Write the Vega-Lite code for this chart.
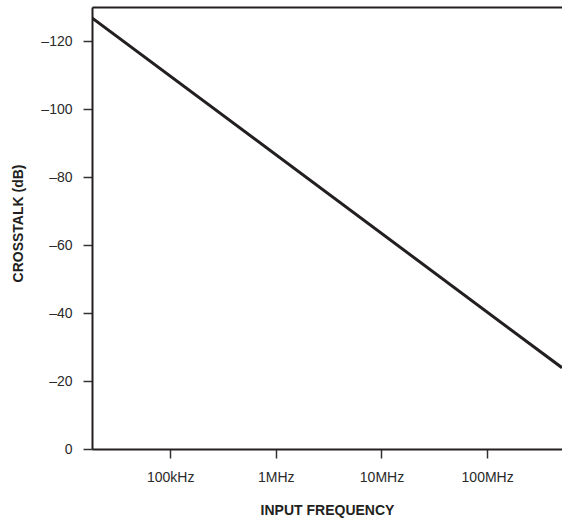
{
  "$schema": "https://vega.github.io/schema/vega-lite/v6.json",
  "autosize": "none",
  "width": 470,
  "height": 442,
  "padding": {"left": 92, "top": 7, "right": 0, "bottom": 72},
  "background": "white",
  "config": {
    "view": {"stroke": null},
    "font": "Liberation Sans",
    "axis": {
      "labelFont": "Liberation Sans",
      "titleFont": "Liberation Sans",
      "labelFontSize": 14,
      "labelColor": "#2a2a2a",
      "titleFontSize": 14,
      "titleFontWeight": "bold",
      "titleColor": "#231f20",
      "domainColor": "#231f20",
      "domainWidth": 2,
      "tickColor": "#333333",
      "tickWidth": 1.5,
      "tickSize": 9,
      "grid": false
    }
  },
  "data": {
    "values": [
      {"freq": 18200, "crosstalk": -126.8},
      {"freq": 511000000, "crosstalk": -23.9}
    ]
  },
  "layer": [
    {
      "mark": {"type": "line", "color": "#231f20", "strokeWidth": 3, "clip": true},
      "encoding": {
        "x": {
          "field": "freq",
          "type": "quantitative",
          "scale": {"type": "log", "domain": [18200, 511000000], "nice": false},
          "axis": {
            "orient": "bottom",
            "values": [100000, 1000000, 10000000, 100000000],
            "labelExpr": "datum.value == 100000 ? '100kHz' : datum.value == 1000000 ? '1MHz' : datum.value == 10000000 ? '10MHz' : '100MHz'",
            "labelPadding": 12,
            "title": "INPUT FREQUENCY",
            "titleX": 235,
            "titleY": 65,
            "titleAlign": "center",
            "titleBaseline": "alphabetic",
            "titleAnchor": null
          }
        },
        "y": {
          "field": "crosstalk",
          "type": "quantitative",
          "scale": {"domain": [-130, 0], "reverse": true, "nice": false},
          "axis": {
            "values": [-120, -100, -80, -60, -40, -20, 0],
            "labelExpr": "datum.value == 0 ? '0' : '\u2013' + abs(datum.value)",
            "labelPadding": 11,
            "title": "CROSSTALK (dB)",
            "titleX": -70,
            "titleY": 216,
            "titleAlign": "center",
            "titleBaseline": "alphabetic",
            "titleAngle": -90
          }
        }
      }
    },
    {
      "mark": {"type": "line", "strokeOpacity": 0},
      "encoding": {
        "x": {
          "field": "freq",
          "type": "quantitative",
          "scale": {"type": "log", "domain": [18200, 511000000], "nice": false},
          "axis": {"orient": "top", "labels": false, "ticks": false, "title": null}
        },
        "y": {
          "field": "crosstalk",
          "type": "quantitative",
          "scale": {"domain": [-130, 0], "reverse": true, "nice": false}
        }
      }
    }
  ],
  "resolve": {"axis": {"x": "independent"}}
}
